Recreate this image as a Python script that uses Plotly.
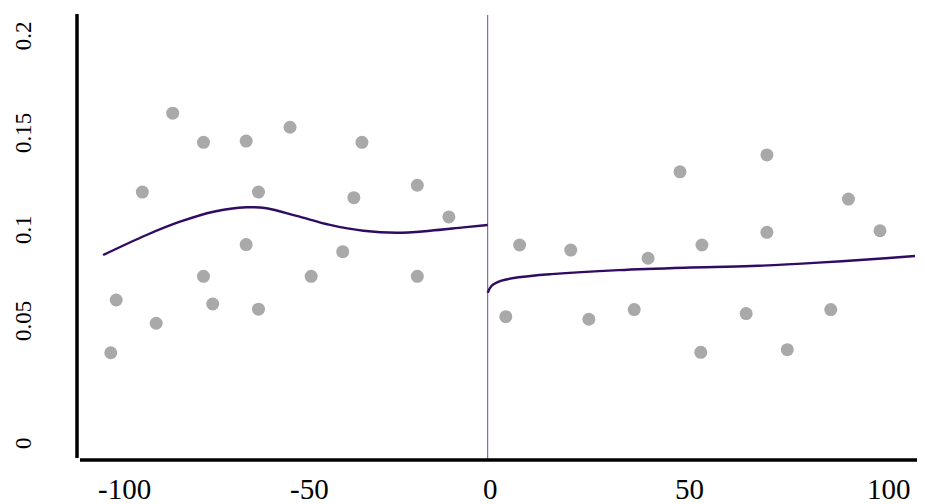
import plotly.graph_objects as go

# ---- data ----
left_x = [-81.9, -73.9, -62.8, -51.4, -32.7, -89.8, -59.6, -18.3, -34.8, -10.1,
          -62.8, -37.7, -73.9, -45.9, -18.3, -96.6, -71.5, -59.6, -86.2, -98.0]
left_y = [0.1639, 0.1494, 0.1500, 0.1569, 0.1494, 0.1246, 0.1246, 0.1280, 0.1218, 0.1122,
          0.0984, 0.0949, 0.0826, 0.0826, 0.0826, 0.0708, 0.0688, 0.0662, 0.0592, 0.0445]
right_x = [8.3, 21.6, 41.7, 55.7, 72.6, 102.0, 50.0, 72.6, 93.8, 4.7,
           26.3, 38.1, 67.2, 89.2, 55.4, 77.9]
right_y = [0.0982, 0.0957, 0.0916, 0.0982, 0.1045, 0.1053, 0.1347, 0.1431, 0.1211, 0.0625,
           0.0612, 0.0660, 0.0640, 0.0660, 0.0447, 0.0460]

fit_left_x = [-100, -88.7, -80.0, -71.3, -62.7, -57.5, -49.7, -41.0, -32.3, -23.7, -15.0, -6.3, 0]
fit_left_y = [0.0932, 0.1032, 0.1098, 0.1148, 0.1170, 0.1165, 0.1127, 0.1082, 0.1053, 0.1043,
              0.1053, 0.1070, 0.1082]
fit_right_x = [0, 1.0, 3.6, 8.0, 16.6, 34.0, 51.3, 68.6, 86.0, 103.4, 111.1]
fit_right_y = [0.0744, 0.0778, 0.0804, 0.0821, 0.0837, 0.0857, 0.0869, 0.0877, 0.0894, 0.0916,
               0.0927]

cutoff = 0
x_ticks = [-100, -50, 0, 50, 100]
x_tick_labels = ["-100", "-50", "0", "50", "100"]
y_ticks = [0, 0.05, 0.1, 0.15, 0.2]
y_tick_labels = ["0", "0.05", "0.1", "0.15", "0.2"]

# ---- figure geometry (page body has an 8px margin) ----
OFF = 8
W, H = 925 - OFF, 504 - OFF
ML, MR, MT, MB = 80 - OFF, 0, 15 - OFF, H - (460 - OFF)
PW, PH = W - ML - MR, H - MT - MB
FONT = "Liberation Serif, Times New Roman, serif"
DOT = "#a9a9a9"
LINE = "#300b63"
VLINE = "#7440b8"


def py(p):
    # reference pixel row -> paper y
    return (H - MB - (p - OFF)) / PH


def px(p):
    # reference pixel column -> paper x
    return ((p - OFF) - ML) / PW


fig = go.Figure()
fig.add_trace(go.Scatter(x=left_x + right_x, y=left_y + right_y, mode="markers",
                         marker=dict(size=13, color=DOT), hoverinfo="x+y", showlegend=False))
fig.add_trace(go.Scatter(x=fit_left_x, y=fit_left_y, mode="lines",
                         line=dict(color=LINE, width=2.4, shape="spline", smoothing=1.0),
                         showlegend=False))
fig.add_trace(go.Scatter(x=fit_right_x, y=fit_right_y, mode="lines",
                         line=dict(color=LINE, width=2.4, shape="spline", smoothing=1.0),
                         showlegend=False))

shapes = [
    dict(type="line", xref="x", yref="paper", x0=cutoff, x1=cutoff, y0=0, y1=1,
         line=dict(color=VLINE, width=1), layer="below"),
    dict(type="line", xref="paper", yref="paper", x0=px(77), x1=px(77), y0=py(458), y1=py(14),
         line=dict(color="black", width=3.5)),
    dict(type="line", xref="paper", yref="paper", x0=px(80), x1=1, y0=py(460), y1=py(460),
         line=dict(color="black", width=3.5)),
]

annotations = []
for v, t in zip(x_ticks, x_tick_labels):
    annotations.append(dict(x=v, xref="x", y=py(472), yref="paper", text=t, showarrow=False,
                            xanchor="left", yanchor="top", xshift=-6, borderpad=0,
                            font=dict(family=FONT, size=29, color="black")))
y_centers = [443, 321, 229, 133, 35.3]
for v, t, c in zip(y_ticks, y_tick_labels, y_centers):
    annotations.append(dict(x=px(23), xref="paper", y=py(c), yref="paper", text=t,
                            showarrow=False, textangle=-90, xanchor="center", yanchor="middle",
                            font=dict(family=FONT, size=23, color="black")))

fig.update_layout(
    width=W, height=H, margin=dict(l=ML, r=MR, t=MT, b=MB),
    paper_bgcolor="white", plot_bgcolor="white",
    xaxis=dict(range=[(80 - 487.7) / 3.846, (925 - 487.7) / 3.846], showgrid=False,
               zeroline=False, showticklabels=False, showline=False, ticks=""),
    yaxis=dict(range=[(442 - 460) / 2006, (442 - 15) / 2006], showgrid=False,
               zeroline=False, showticklabels=False, showline=False, ticks=""),
    shapes=shapes, annotations=annotations, showlegend=False,
)

fig.write_html("out.html")
